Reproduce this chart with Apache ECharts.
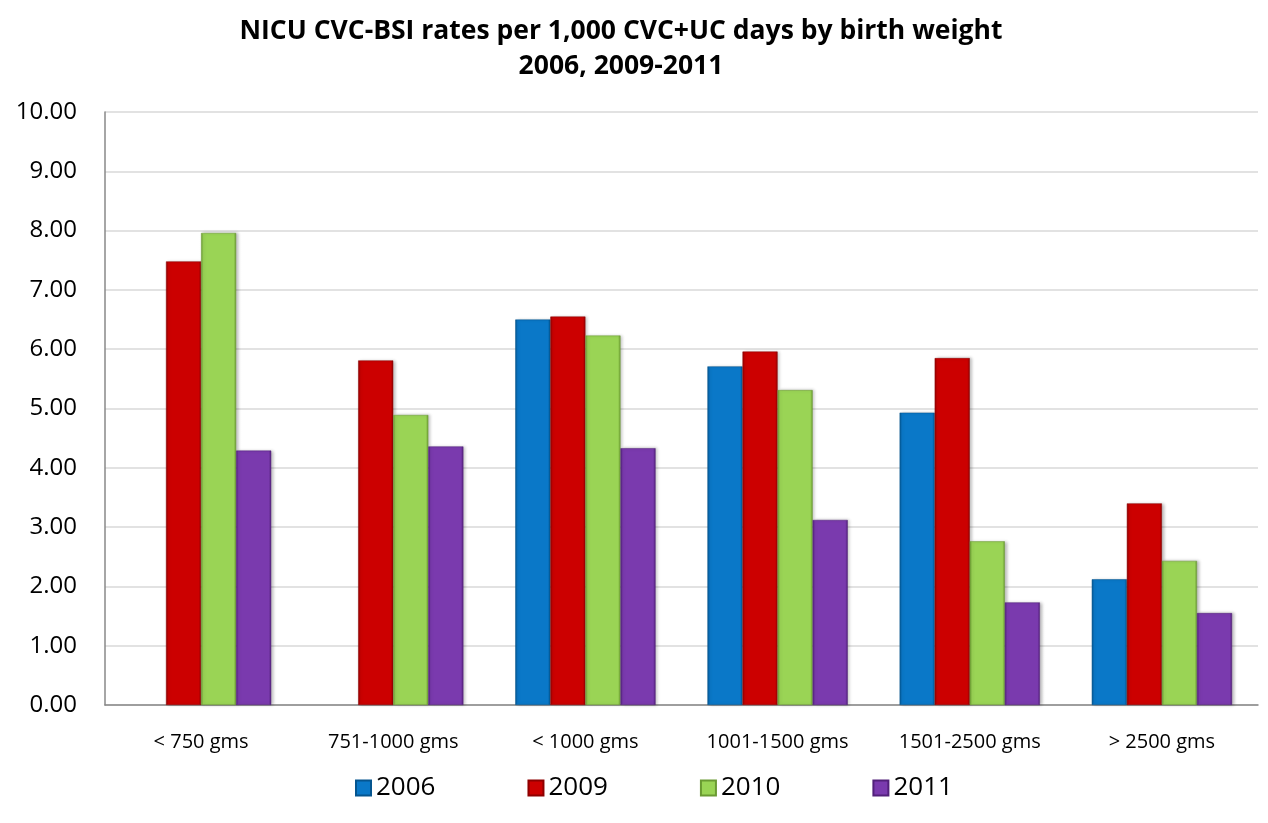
<!DOCTYPE html>
<html>
<head>
<meta charset="utf-8">
<script src="https://cdn.jsdelivr.net/npm/echarts@6/dist/echarts.min.js"></script>
<style>html,body{margin:0;padding:0;background:#fff}#c{width:1268px;height:823px}</style>
</head>
<body>
<div id="c"></div>
<script>
const categories = ['< 750 gms', '751-1000 gms', '< 1000 gms', '1001-1500 gms', '1501-2500 gms', '> 2500 gms'];
const years = ['2006', '2009', '2010', '2011'];
const v2006 = [null, null, 6.50, 5.71, 4.93, 2.12];
const v2009 = [7.48, 5.81, 6.55, 5.96, 5.85, 3.40];
const v2010 = [7.96, 4.89, 6.23, 5.31, 2.76, 2.43];
const v2011 = [4.29, 4.36, 4.33, 3.12, 1.73, 1.55];
const yTicks = [0, 1, 2, 3, 4, 5, 6, 7, 8, 9, 10];

const seriesData = [v2006, v2009, v2010, v2011];
const palette = [
  {base: '#0a78c8', dark: '#05558f'},
  {base: '#cc0000', dark: '#8e0000'},
  {base: '#9ad455', dark: '#6a9a32'},
  {base: '#7a3aae', dark: '#52207a'}
];
function grad(p) {
  return new echarts.graphic.LinearGradient(0, 0, 1, 0, [
    {offset: 0, color: p.dark},
    {offset: 0.07, color: p.base},
    {offset: 0.93, color: p.base},
    {offset: 1, color: p.dark}
  ]);
}

const chart = echarts.init(document.getElementById('c'), null, {renderer: 'canvas'});
chart.setOption({
  backgroundColor: '#ffffff',
  animation: false,
  color: palette.map(p => p.base),
  title: {
    text: 'NICU CVC-BSI rates per 1,000 CVC+UC days by birth weight\n2006, 2009-2011',
    left: 616, top: 9, textAlign: 'center',
    textStyle: {fontFamily: 'Open Sans', fontWeight: 'bold', fontSize: 26.5, color: '#000', lineHeight: 35}
  },
  legend: {
    data: years, top: 770, left: 350, itemGap: 92,
    itemWidth: 15, itemHeight: 15, icon: 'rect',
    textStyle: {fontFamily: 'Open Sans', fontSize: 26, color: '#000'}
  },
  grid: {left: 105, right: 10, top: 112, bottom: 118},
  xAxis: {
    type: 'category', data: categories,
    axisLine: {lineStyle: {color: '#888', width: 1.5}},
    axisTick: {show: false},
    axisLabel: {fontFamily: 'Open Sans', fontSize: 20, color: '#000', margin: 27}
  },
  yAxis: {
    type: 'value', min: 0, max: 10, interval: 1,
    axisLine: {show: true, lineStyle: {color: '#888', width: 1.5}},
    axisTick: {show: false},
    splitLine: {lineStyle: {color: '#d9d9d9', width: 1.5}},
    axisLabel: {fontFamily: 'Open Sans', fontSize: 24, color: '#000', margin: 28,
      formatter: v => yTicks.includes(v) ? v.toFixed(2) : ''}
  },
  series: years.map((y, i) => ({
    name: y, type: 'bar', data: seriesData[i],
    barGap: '0%', barCategoryGap: '27%',
    itemStyle: {color: grad(palette[i]), borderColor: palette[i].dark, borderWidth: 0.5,
      shadowColor: 'rgba(0,0,0,0.25)', shadowBlur: 3, shadowOffsetX: 2, shadowOffsetY: 0}
  }))
});
</script>
</body>
</html>
